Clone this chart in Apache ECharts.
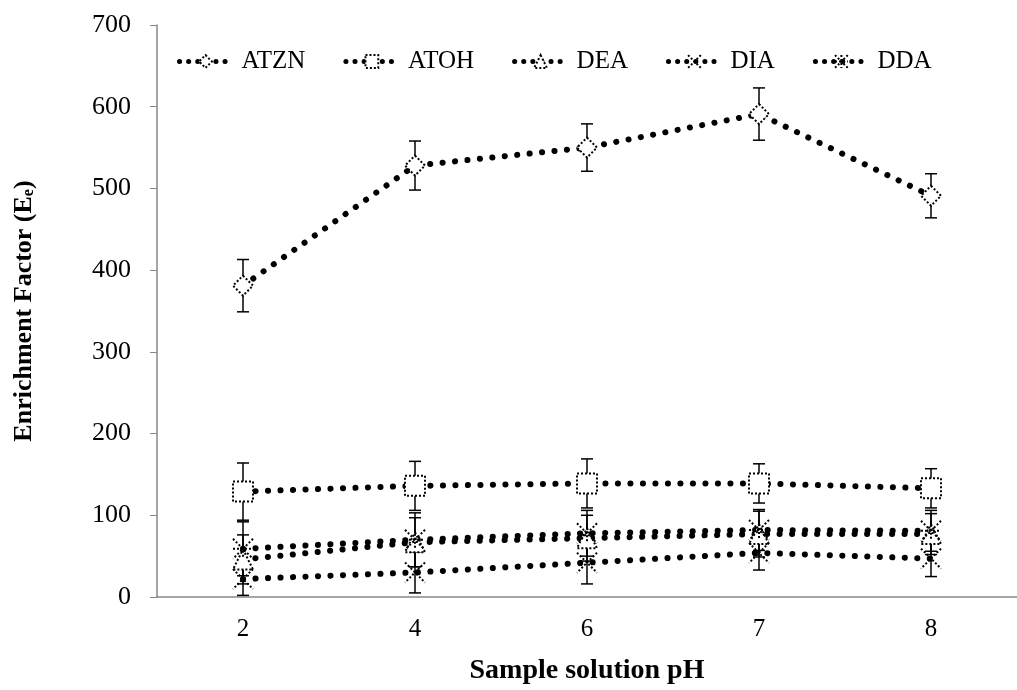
<!DOCTYPE html>
<html>
<head>
<meta charset="utf-8">
<script src="https://cdn.jsdelivr.net/npm/echarts@6/dist/echarts.min.js"></script>
<style>html,body{margin:0;padding:0;background:#fff}#c{width:1017px;height:690px}</style>
</head>
<body>
<div id="c"></div>
<script>
const categories = ['2', '4', '6', '7', '8'];
const yTicks = [0, 100, 200, 300, 400, 500, 600, 700];
const seriesNames = ['ATZN', 'ATOH', 'DEA', 'DIA', 'DDA'];
const atzn = [381, 528, 550, 591, 491];
const atznErr = [32, 30, 29, 32, 27];
const atoh = [129, 136, 139, 139, 133];
const atohErr = [35, 30, 30, 24, 24];
const dea = [46, 67, 72, 77, 77];
const deaErr = [30, 30, 28, 28, 25];
const dia = [22, 30, 42, 54, 47];
const diaErr = [20, 25, 26, 21, 22];
const dda = [59, 70, 78, 82, 81];
const ddaErr = [33, 33, 28, 25, 25];

const values = [atzn, atoh, dea, dia, dda];
const errors = [atznErr, atohErr, deaErr, diaErr, ddaErr];
const symbols = [
  'diamond',
  'rect',
  'triangle',
  'path://M0,0L10,10M10,0L0,10',
  'path://M0,0L10,10M10,0L0,10M5,0L5,10M0,5L10,5'
];
const FONT = 'Liberation Serif';

const chart = echarts.init(document.getElementById('c'), null, {renderer: 'canvas'});

const lineSeries = seriesNames.map((name, i) => ({
  name: name,
  type: 'line',
  data: values[i],
  symbol: symbols[i],
  symbolSize: 20,
  z: 3,
  lineStyle: {color: '#000', width: 6, type: [0.1, 12.4], cap: 'round'},
  itemStyle: {color: '#fff', borderColor: '#000', borderWidth: 2, borderType: 'dotted'},
  emphasis: {disabled: true},
  animation: false
}));

const errSeries = seriesNames.map((name, i) => ({
  type: 'custom',
  z: 2,
  silent: true,
  animation: false,
  encode: {x: 0, y: 1},
  data: values[i].map((v, k) => [k, v, errors[i][k]]),
  renderItem: function (params, api) {
    const x = api.value(0), y = api.value(1), e = api.value(2);
    const t = api.coord([x, y + e]);
    const b = api.coord([x, y - e]);
    const hw = 6;
    const st = {stroke: '#000', lineWidth: 1.5};
    return {
      type: 'group',
      children: [
        {type: 'line', shape: {x1: t[0], y1: t[1], x2: b[0], y2: b[1]}, style: st},
        {type: 'line', shape: {x1: t[0] - hw, y1: t[1], x2: t[0] + hw, y2: t[1]}, style: st},
        {type: 'line', shape: {x1: b[0] - hw, y1: b[1], x2: b[0] + hw, y2: b[1]}, style: st}
      ]
    };
  }
}));

chart.setOption({
  backgroundColor: '#fff',
  animation: false,
  grid: {left: 157, right: -9, top: 25, bottom: 90, containLabel: false},
  legend: {
    data: seriesNames,
    left: 172, top: 44,
    itemWidth: 52, itemHeight: 16, itemGap: 38,
    itemStyle: {color: '#fff', borderColor: '#000', borderWidth: 2, borderType: 'dotted'},
    lineStyle: {color: '#000', width: 5, type: [0.1, 9], cap: 'round'},
    textStyle: {fontFamily: FONT, fontSize: 25, color: '#000', padding: [0, 0, 0, 5]}
  },
  xAxis: {
    type: 'category',
    data: categories,
    boundaryGap: true,
    name: 'Sample solution pH',
    nameLocation: 'middle',
    nameGap: 60,
    nameTextStyle: {fontFamily: FONT, fontSize: 28, fontWeight: 'bold', color: '#000'},
    axisLine: {lineStyle: {color: '#888', width: 1.5}},
    axisTick: {alignWithLabel: true, length: 7, lineStyle: {color: '#888'}},
    axisLabel: {fontFamily: FONT, fontSize: 25, color: '#000', margin: 20}
  },
  yAxis: {
    type: 'value',
    min: yTicks[0], max: yTicks[yTicks.length - 1], interval: 100,
    name: '{b|Enrichment Factor (E}{s|e}{b|)}',
    nameLocation: 'middle',
    nameGap: 120,
    nameRotate: 90,
    nameTextStyle: {
      rich: {
        b: {fontFamily: FONT, fontSize: 26, fontWeight: 'bold', color: '#000'},
        s: {fontFamily: FONT, fontSize: 16, fontWeight: 'bold', color: '#000', verticalAlign: 'bottom', padding: [10, 0, 0, 0]}
      }
    },
    splitLine: {show: false},
    axisLine: {show: true, lineStyle: {color: '#888', width: 1.5}},
    axisTick: {show: true, length: 7, lineStyle: {color: '#888'}},
    axisLabel: {fontFamily: FONT, fontSize: 26, color: '#000', margin: 26}
  },
  series: errSeries.concat(lineSeries)
});
</script>
</body>
</html>
